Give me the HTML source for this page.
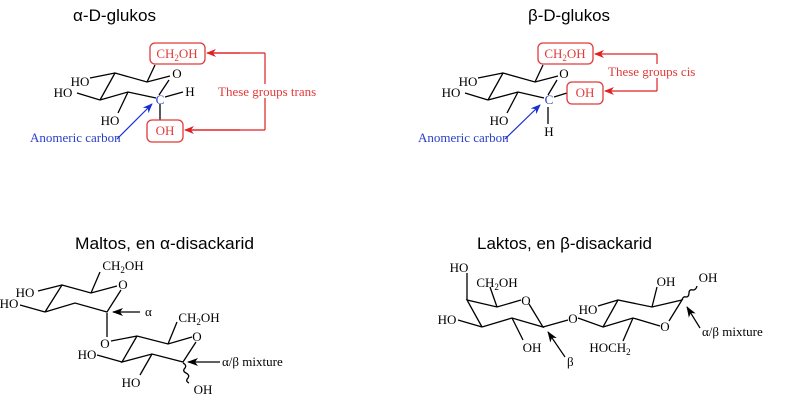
<!DOCTYPE html>
<html><head><meta charset="utf-8"><style>
html,body{margin:0;padding:0;background:#fff;}
svg{display:block}
.t{font-family:"Liberation Sans",sans-serif;font-size:17px;fill:#000}
.s{font-family:"Liberation Serif",serif;font-size:13px;fill:#000}
.r{fill:#e03a3a}
.b{fill:#2a3fc8}
</style></head><body>
<svg width="800" height="412" viewBox="0 0 800 412" xmlns="http://www.w3.org/2000/svg">
<defs>
<marker id="ar" markerWidth="10" markerHeight="8" refX="9" refY="4" orient="auto" markerUnits="userSpaceOnUse"><path d="M0,0 L10,4 L0,8 L3,4z" fill="#e02020"/></marker>
<marker id="ab" markerWidth="10" markerHeight="8" refX="9" refY="4" orient="auto" markerUnits="userSpaceOnUse"><path d="M0,0 L10,4 L0,8 L3,4z" fill="#1a2fd0"/></marker>
<marker id="ak" markerWidth="11" markerHeight="8" refX="10" refY="4" orient="auto" markerUnits="userSpaceOnUse"><path d="M0,0 L11,4 L0,8 L3,4z" fill="#000"/></marker>
</defs>

<text class="t" x="73" y="21" textLength="83" lengthAdjust="spacingAndGlyphs">α-D-glukos</text>
<text class="t" x="528" y="21" textLength="82" lengthAdjust="spacingAndGlyphs">β-D-glukos</text>
<text class="t" x="75" y="249" textLength="179" lengthAdjust="spacingAndGlyphs">Maltos, en α-disackarid</text>
<text class="t" x="477" y="249" textLength="175" lengthAdjust="spacingAndGlyphs">Laktos, en β-disackarid</text>

<!-- alpha glucose -->
<g stroke="#000" stroke-width="1.3" fill="none">
<path d="M100,100 L115,73 L147,82 L170,76 M169,80 L159,95 M156,98 L128,92 L100,100"/>
<path d="M115,73 L90,78 M100,100 L77,93 M128,92 L118,113 M147,82 L155,65 M165,97 L183,92 M160,104 L160,121"/>
</g>
<text class="s" x="177" y="78" text-anchor="middle">O</text>
<text class="s" x="190" y="96" text-anchor="middle">H</text>
<text class="s b" x="160" y="104" text-anchor="middle">C</text>
<text class="s" x="80" y="86" text-anchor="middle">HO</text>
<text class="s" x="63" y="97" text-anchor="middle">HO</text>
<text class="s" x="110" y="125" text-anchor="middle">HO</text>
<rect x="150" y="43" width="55" height="21" rx="5" fill="none" stroke="#e03a3a" stroke-width="1.3"/>
<text class="s r" x="177" y="58" text-anchor="middle">CH<tspan font-size="9" dy="3">2</tspan><tspan dy="-3">OH</tspan></text>
<rect x="147" y="120" width="36" height="22" rx="5" fill="#fff" stroke="#e03a3a" stroke-width="1.3"/>
<text class="s r" x="165" y="135" text-anchor="middle">OH</text>
<path d="M265,53 V130 M265,53 H208 M265,130 H186" stroke="#e02020" stroke-width="1.2" fill="none"/>
<path d="M240,53 H207" stroke="#e02020" stroke-width="1.2" marker-end="url(#ar)"/>
<path d="M240,130 H185" stroke="#e02020" stroke-width="1.2" marker-end="url(#ar)"/>
<rect x="216" y="84" width="100" height="14" fill="#fff"/>
<text class="s r" x="218" y="96">These groups trans</text>
<text class="s b" x="30" y="142">Anomeric carbon</text>
<path d="M117,139 L152,104" stroke="#1a2fd0" stroke-width="1.2" marker-end="url(#ab)"/>

<!-- beta glucose -->
<g stroke="#000" stroke-width="1.3" fill="none">
<path d="M488,100 L503,73 L535,82 L558,76 M557,80 L548,95 M544,98 L518,92 L488,100"/>
<path d="M503,73 L478,78 M488,100 L465,93 M518,92 L507,113 M535,82 L543,65 M554,97 L567,93 M548,107 L548,124"/>
</g>
<text class="s" x="564" y="78" text-anchor="middle">O</text>
<text class="s b" x="549" y="104" text-anchor="middle">C</text>
<text class="s" x="549" y="136" text-anchor="middle">H</text>
<text class="s" x="468" y="86" text-anchor="middle">HO</text>
<text class="s" x="451" y="97" text-anchor="middle">HO</text>
<text class="s" x="499" y="125" text-anchor="middle">HO</text>
<rect x="538" y="43" width="55" height="21" rx="5" fill="none" stroke="#e03a3a" stroke-width="1.3"/>
<text class="s r" x="565" y="58" text-anchor="middle">CH<tspan font-size="9" dy="3">2</tspan><tspan dy="-3">OH</tspan></text>
<rect x="567" y="82" width="36" height="22" rx="5" fill="#fff" stroke="#e03a3a" stroke-width="1.3"/>
<text class="s r" x="585" y="97" text-anchor="middle">OH</text>
<path d="M657,54 V91" stroke="#e02020" stroke-width="1.2" fill="none"/>
<path d="M657,54 H595" stroke="#e02020" stroke-width="1.2" marker-end="url(#ar)"/>
<path d="M657,91 H605" stroke="#e02020" stroke-width="1.2" marker-end="url(#ar)"/>
<rect x="606" y="64" width="90" height="14" fill="#fff"/>
<text class="s r" x="608" y="76">These groups cis</text>
<text class="s b" x="418" y="142">Anomeric carbon</text>
<path d="M505,139 L540,105" stroke="#1a2fd0" stroke-width="1.2" marker-end="url(#ab)"/>

<!-- maltose -->
<g stroke="#000" stroke-width="1.3" fill="none">
<path d="M45,312 L62,285 L91,293 L117,286 M121,290 L107,312 L75,303 L45,312"/>
<path d="M62,285 L38,291 M45,312 L20,305 M91,293 L100,272 M107,313 L107,337"/>
<path d="M111,341 L137,336 L168,344 L192,337 M196,342 L183,362 L152,354 L122,362 L137,336"/>
<path d="M122,362 L97,355 M152,354 L140,375 M168,344 L177,322"/>
<path d="M183,363 q4,2 2,5 q-3,3 1,5 q4,2 2,5 q-3,3 1,5" />
</g>
<text class="s" x="123" y="289" text-anchor="middle">O</text>
<text class="s" x="123" y="270" text-anchor="middle">CH<tspan font-size="9" dy="3">2</tspan><tspan dy="-3">OH</tspan></text>
<text class="s" x="25" y="297" text-anchor="middle">HO</text>
<text class="s" x="9" y="308" text-anchor="middle">HO</text>
<path d="M140,312 L113,312" stroke="#000" stroke-width="1.2" marker-end="url(#ak)"/>
<text class="s" x="145" y="316">α</text>
<text class="s" x="105" y="348" text-anchor="middle">O</text>
<text class="s" x="197" y="341" text-anchor="middle">O</text>
<text class="s" x="199" y="322" text-anchor="middle">CH<tspan font-size="9" dy="3">2</tspan><tspan dy="-3">OH</tspan></text>
<text class="s" x="87" y="359" text-anchor="middle">HO</text>
<text class="s" x="131" y="387" text-anchor="middle">HO</text>
<text class="s" x="203" y="394" text-anchor="middle">OH</text>
<path d="M220,362 L188,362" stroke="#000" stroke-width="1.2" marker-end="url(#ak)"/>
<text class="s" x="222" y="366">α/β mixture</text>

<!-- lactose -->
<g stroke="#000" stroke-width="1.3" fill="none">
<path d="M482,327 L467,300 L497,307 L521,300 M529,304 L543,327 L512,318 L482,327"/>
<path d="M467,300 L467,273 M497,307 L490,287 M482,327 L458,320 M512,318 L523,340 M543,327 L568,320"/>
<path d="M578,318 L603,327 L618,300 L652,307 L682,300 L669,321 M660,326 L633,318 L603,327"/>
<path d="M618,300 L598,306 M652,307 L657,287 M633,318 L623,341"/>
<path d="M682,300 q1,-4 4,-3 q3,0 3,-4 q0,-4 4,-3 q3,0 4,-4"/>
</g>
<text class="s" x="459" y="272" text-anchor="middle">HO</text>
<text class="s" x="497" y="287" text-anchor="middle">CH<tspan font-size="9" dy="3">2</tspan><tspan dy="-3">OH</tspan></text>
<text class="s" x="526" y="305" text-anchor="middle">O</text>
<text class="s" x="447" y="324" text-anchor="middle">HO</text>
<text class="s" x="532" y="352" text-anchor="middle">OH</text>
<path d="M565,357 L548,332" stroke="#000" stroke-width="1.2" marker-end="url(#ak)"/>
<text class="s" x="567" y="366">β</text>
<text class="s" x="573" y="323" text-anchor="middle">O</text>
<text class="s" x="588" y="314" text-anchor="middle">HO</text>
<text class="s" x="665" y="331" text-anchor="middle">O</text>
<text class="s" x="666" y="286" text-anchor="middle">OH</text>
<text class="s" x="708" y="282" text-anchor="middle">OH</text>
<text class="s" x="610" y="352" text-anchor="middle">HOCH<tspan font-size="9" dy="3">2</tspan></text>
<path d="M700,328 L687,307" stroke="#000" stroke-width="1.2" marker-end="url(#ak)"/>
<text class="s" x="702" y="336">α/β mixture</text>
</svg>
</body></html>
